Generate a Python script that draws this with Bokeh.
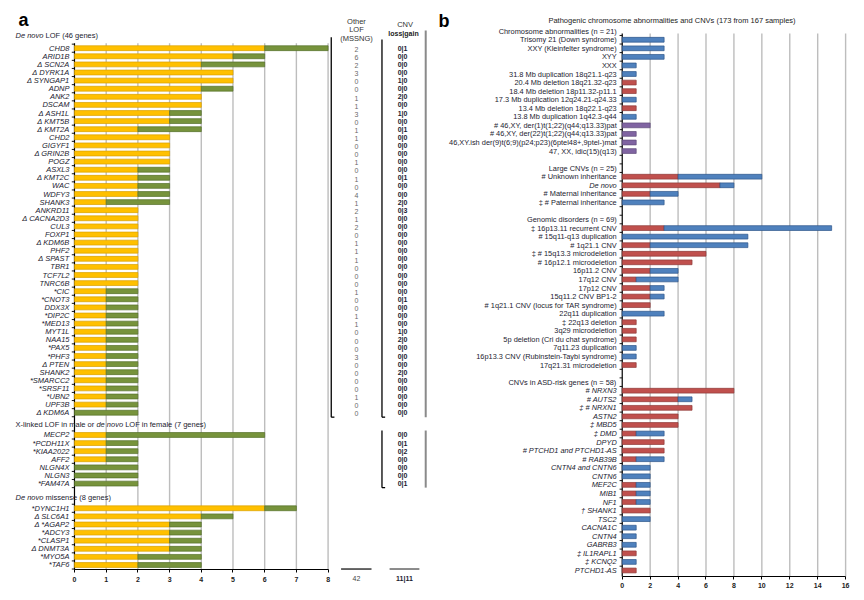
from bokeh.plotting import figure
from bokeh.models import Range1d, FixedTicker
from bokeh.layouts import row
from bokeh.embed import file_html
from bokeh.resources import INLINE
from bokeh.core.properties import value

# ---------------- Panel a data ----------------
lof_genes = ["CHD8", "ARID1B", "Δ SCN2A", "Δ DYRK1A", "Δ SYNGAP1", "ADNP", "ANK2", "DSCAM",
             "Δ ASH1L", "Δ KMT5B", "Δ KMT2A", "CHD2", "GIGYF1", "Δ GRIN2B", "POGZ", "ASXL3",
             "Δ KMT2C", "WAC", "WDFY3", "SHANK3", "ANKRD11", "Δ CACNA2D3", "CUL3", "FOXP1",
             "Δ KDM6B", "PHF2", "Δ SPAST", "TBR1", "TCF7L2", "TNRC6B", "*CIC", "*CNOT3",
             "DDX3X", "*DIP2C", "*MED13", "MYT1L", "NAA15", "*PAX5", "*PHF3", "Δ PTEN",
             "SHANK2", "*SMARCC2", "*SRSF11", "*UBN2", "UPF3B", "Δ KDM6A"]
lof_yellow = [6, 5, 4, 5, 5, 4, 4, 4, 3, 3, 2, 3, 3, 3, 3, 2, 2, 2, 2, 1,
              2, 2, 2, 2, 2, 2, 2, 2, 2, 2,
              1, 1, 1, 1, 1, 1, 1, 1, 1, 1, 1, 1, 1, 1, 1, 0]
lof_green = [2, 1, 2, 0, 0, 1, 0, 0, 1, 1, 2, 0, 0, 0, 0, 1, 1, 1, 1, 2,
             0, 0, 0, 0, 0, 0, 0, 0, 0, 0,
             1, 1, 1, 1, 1, 1, 1, 1, 1, 1, 1, 1, 1, 1, 1, 2]
other_lof = [2, 6, 2, 3, 0, 0, 1, 1, 3, 0, 1, 1, 0, 0, 1, 0, 1, 0, 4, 1,
             2, 1, 2, 0, 1, 1, 1, 0, 0, 0,
             1, 0, 0, 1, 1, 0, 0, 0, 3, 0, 0, 0, 0, 1, 0, 0]
lof_cnv = ["0|1", "0|0", "0|0", "0|0", "1|0", "0|0", "2|0", "0|0", "1|0", "0|0",
           "0|1", "0|0", "0|0", "0|0", "0|0", "0|0", "0|1", "0|0", "0|0", "2|0",
           "0|3", "0|0", "0|0", "0|0", "0|0", "0|0", "0|0", "0|0", "0|0", "0|0",
           "0|0", "0|1", "0|0", "0|0", "0|0", "1|0", "2|0", "0|0", "0|0", "0|0",
           "2|0", "0|0", "0|0", "0|0", "0|0", "0|0"]

xl_genes = ["MECP2", "*PCDH11X", "*KIAA2022", "AFF2", "NLGN4X", "NLGN3", "*FAM47A"]
xl_yellow = [1, 1, 1, 1, 0, 0, 0]
xl_green = [5, 1, 1, 1, 2, 2, 2]
xl_cnv = ["0|0", "0|1", "0|2", "0|0", "0|0", "0|0", "0|1"]

ms_genes = ["*DYNC1H1", "Δ SLC6A1", "Δ *AGAP2", "*ADCY3", "*CLASP1", "Δ DNMT3A", "*MYO5A", "*TAF6"]
ms_yellow = [6, 4, 3, 3, 3, 3, 2, 2]
ms_green = [1, 1, 1, 1, 1, 1, 2, 2]

a_ticks = [0, 1, 2, 3, 4, 5, 6, 7, 8]

# ---------------- Panel b data ----------------
b_title = "Pathogenic chromosome abnormalities and  CNVs (173 from 167 samples)"
chrom_header = "Chromosome abnormalities (n = 21)"
chrom_labels = ["Trisomy 21 (Down syndrome)", "XXY (Kleinfelter syndrome)", "XYY", "XXX",
                "31.8 Mb duplication 18q21.1-q23", "20.4 Mb deletion 18q21.32-q23",
                "18.4 Mb deletion 18p11.32-p11.1", "17.3 Mb duplication 12q24.21-q24.33",
                "13.4 Mb deletion 18q22.1-q23", "13.8 Mb duplication 1q42.3-q44",
                "# 46,XY, der(1)t(1;22)(q44;q13.33)pat", "# 46,XY, der(22)t(1;22)(q44;q13.33)pat",
                "46,XY.ish der(9)t(6;9)(p24;p23)(6ptel48+,9ptel-)mat", "47, XX, idic(15)(q13)"]
chrom_loss = [0, 0, 0, 0, 0, 1, 1, 0, 1, 0, 0, 0, 0, 0]
chrom_gain = [3, 3, 3, 1, 1, 0, 0, 1, 0, 1, 0, 0, 0, 0]
chrom_complex = [0, 0, 0, 0, 0, 0, 0, 0, 0, 0, 2, 1, 1, 1]

large_header = "Large CNVs (n = 25)"
large_labels = ["# Unknown inheritance", "De novo", "# Maternal inheritance", "‡ # Paternal inheritance"]
large_loss = [4, 7, 2, 0]
large_gain = [6, 1, 2, 3]

gd_header = "Genomic disorders (n = 69)"
gd_labels = ["‡ 16p13.11 recurrent CNV", "# 15q11-q13 duplication", "# 1q21.1 CNV",
             "‡ # 15q13.3 microdeletion", "# 16p12.1 microdeletion", "16p11.2 CNV", "17q12 CNV",
             "17p12 CNV", "15q11.2 CNV BP1-2", "# 1q21.1 CNV (locus for TAR syndrome)",
             "22q11 duplication", "‡ 22q13 deletion", "3q29 microdeletion",
             "5p deletion (Cri du chat syndrome)", "7q11.23 duplication",
             "16p13.3 CNV (Rubinstein-Taybi syndrome)", "17q21.31 microdeletion"]
gd_loss = [3, 0, 2, 6, 5, 2, 1, 2, 2, 2, 0, 1, 1, 1, 0, 0, 1]
gd_gain = [12, 9, 7, 0, 0, 2, 3, 1, 1, 0, 3, 0, 0, 0, 1, 1, 0]

asd_header = "CNVs in ASD-risk genes (n = 58)"
asd_labels = ["# NRXN3", "# AUTS2", "‡ # NRXN1", "ASTN2", "‡ MBD5", "‡ DMD", "DPYD",
              "# PTCHD1 and PTCHD1-AS", "# RAB39B", "CNTN4 and CNTN6", "CNTN6", "MEF2C", "MIB1",
              "NF1", "† SHANK1", "TSC2", "CACNA1C", "CNTN4", "GABRB3", "‡ IL1RAPL1", "‡ KCNQ2",
              "PTCHD1-AS"]
asd_loss = [8, 4, 5, 4, 4, 1, 3, 3, 1, 0, 0, 1, 1, 1, 2, 0, 0, 0, 0, 1, 0, 1]
asd_gain = [0, 1, 0, 0, 0, 2, 0, 0, 2, 2, 2, 1, 1, 1, 0, 2, 1, 1, 1, 0, 1, 0]

b_ticks = [0, 2, 4, 6, 8, 10, 12, 14, 16]

# ---------------- style ----------------
FONT = "Liberation Sans"
TXT = "#1b1b2f"
YEL, YEL_L = "#FFC000", "#D9A000"
GRN, GRN_L = "#77933C", "#55702A"
RED, RED_L = "#C0504D", "#8E3A38"
BLU, BLU_L = "#4F81BD", "#2C5489"
PUR, PUR_L = "#8064A2", "#5E4A7A"
GRID = "#BDBDBD"
H = 596


def base_fig(width, xr, yr, axis_at):
    p = figure(width=width, height=H, x_range=Range1d(*xr), y_range=Range1d(*yr),
               output_backend="svg", toolbar_location=None, y_axis_location=None,
               min_border=0, min_border_left=0, min_border_right=0, min_border_top=0,
               min_border_bottom=0)
    p.xgrid.visible = False
    p.ygrid.visible = False
    p.outline_line_color = None
    p.background_fill_color = "white"
    p.border_fill_color = "white"
    ax = p.xaxis[0]
    ax.fixed_location = axis_at
    ax.axis_line_color = "black"
    ax.axis_line_width = 1.2
    ax.major_tick_line_color = "black"
    ax.major_tick_in = 0
    ax.major_tick_out = 3
    ax.minor_tick_line_color = None
    ax.major_label_text_font = FONT
    ax.major_label_text_font_size = "7px"
    ax.major_label_text_font_style = "bold"
    ax.major_label_text_color = "#222222"
    ax.major_label_standoff = 4
    return p


def stacked(p, ys, first, second, c1, l1, c2, l2, h):
    y1 = [y for y, a in zip(ys, first) if a > 0]
    r1 = [a for a in first if a > 0]
    p.hbar(y=y1, left=0, right=r1, height=h, fill_color=c1, line_color=l1, line_width=0.7)
    y2 = [y for y, a, b in zip(ys, first, second) if b > 0]
    lft = [a for a, b in zip(first, second) if b > 0]
    rgt = [a + b for a, b in zip(first, second) if b > 0]
    p.hbar(y=y2, left=lft, right=rgt, height=h, fill_color=c2, line_color=l2, line_width=0.7)


def txt(p, xs, ys, texts, size="7.5px", style="normal", align="right", color=TXT,
        xoff=0, baseline="middle"):
    p.text(x=xs, y=ys, text=texts, x_offset=xoff, text_align=align, text_baseline=baseline,
           text_font=value(FONT), text_font_size=size, text_font_style=style, text_color=color)


# ================= Panel a =================
AXIS_A = 64.4
pa = base_fig(432, (-2.334, 11.294), ((H - 47.7) / 8.1, -47.7 / 8.1), AXIS_A)
pa.xaxis.ticker = FixedTicker(ticks=a_ticks)
pa.xaxis.bounds = (a_ticks[0], a_ticks[-1])

y_lof = [float(i) for i in range(len(lof_genes))]
y_xl = [47.75 + i for i in range(len(xl_genes))]
y_ms = [56.8 + i for i in range(len(ms_genes))]
ys_all = y_lof + y_xl + y_ms
top_a, bot_a = -0.62, AXIS_A

# grid lines
pa.segment(x0=a_ticks[1:], y0=top_a, x1=a_ticks[1:], y1=bot_a, line_color=GRID, line_width=1.4)
# y axis line + ticks
pa.segment(x0=[0], y0=[top_a], x1=[0], y1=[bot_a], line_color="black", line_width=1.2)
tb = [y - 0.5 for y in y_lof] + [y_lof[-1] + 0.5] + [y - 0.5 for y in y_xl] + [y_xl[-1] + 0.5] \
     + [y - 0.5 for y in y_ms] + [y_ms[-1] + 0.5]
pa.segment(x0=-0.085, y0=tb, x1=0, y1=tb, line_color="black", line_width=0.9)

stacked(pa, ys_all, lof_yellow + xl_yellow + ms_yellow, lof_green + xl_green + ms_green,
        YEL, YEL_L, GRN, GRN_L, 0.6)

txt(pa, [0] * len(ys_all), ys_all, lof_genes + xl_genes + ms_genes, size="7.5px",
    style="italic", xoff=-5)

# section headers
hx = -1.861
txt(pa, [hx], [-1.57], ["De novo"], style="italic", align="left")
txt(pa, [hx], [-1.57], ["LOF (46 genes)"], align="left", xoff=30.0)
txt(pa, [hx], [46.5], ["X-linked LOF in male or"], align="left")
txt(pa, [hx], [46.5], ["de novo"], style="italic", align="left", xoff=80.9)
txt(pa, [hx], [46.5], ["LOF in female (7 genes)"], align="left", xoff=109.7)
txt(pa, [hx], [55.5], ["De novo"], style="italic", align="left")
txt(pa, [hx], [55.5], ["missense (8 genes)"], align="left", xoff=30.0)

# panel letter
txt(pa, [-1.767], [-3.42], ["a"], size="18px", style="bold", align="left", color="black",
    baseline="alphabetic")

# columns
x_other, x_cnv = 8.896, 10.35
txt(pa, [x_other] * 3, [-3.27, -2.33, -1.18], ["Other", "LOF", "(MSSNG)"], size="7.5px",
    align="center", color="#333333")
txt(pa, [10.43], [-2.93], ["CNV"], size="7.5px", align="center", color="#333333")
txt(pa, [10.38], [-1.82], ["loss|gain"], size="7px", style="bold", align="center", color="#222222")
txt(pa, [x_other] * len(y_lof), [y + 0.15 for y in y_lof], [str(v) for v in other_lof],
    size="7px", align="center", color="#6a6a6a")
txt(pa, [x_cnv] * (len(y_lof) + len(y_xl)), y_lof + y_xl, lof_cnv + xl_cnv,
    size="7px", style="bold", align="center", color=TXT)

# column brackets
pa.segment(x0=[8.1, 9.70], y0=[-1.36, -1.08], x1=[8.1, 9.70], y1=[45.55, 45.55],
           line_color="black", line_width=1.3)
pa.segment(x0=[8.1, 9.70], y0=[45.55, 45.55], x1=[8.2, 9.80], y1=[45.55, 45.55],
           line_color="black", line_width=1.3)
pa.segment(x0=[11.08], y0=[-2.2], x1=[11.08], y1=[45.55], line_color="#8a8a8a", line_width=2)
pa.segment(x0=[9.70], y0=[47.2], x1=[9.70], y1=[54.25], line_color="black", line_width=1.3)
pa.segment(x0=[9.70], y0=[54.25], x1=[9.80], y1=[54.25], line_color="black", line_width=1.3)
pa.segment(x0=[11.08], y0=[47.2], x1=[11.08], y1=[54.25], line_color="#8a8a8a", line_width=2)
pa.segment(x0=[8.41], y0=[64.3], x1=[9.37], y1=[64.3], line_color="black", line_width=1.2)
pa.segment(x0=[9.94], y0=[64.3], x1=[10.88], y1=[64.3], line_color="#8a8a8a", line_width=2)

tot_other = sum(other_lof)
cnv_all = lof_cnv + xl_cnv
tot_loss = sum(int(c.split("|")[0]) for c in cnv_all)
tot_gain = sum(int(c.split("|")[1]) for c in cnv_all)
txt(pa, [x_other], [65.47], [str(tot_other)], size="7px", align="center", color="#444444")
txt(pa, [10.41], [65.47], [f"{tot_loss}|{tot_gain}"], size="7px", style="bold", align="center")

# ================= Panel b =================
AXIS_B = 63.7
pb = base_fig(424, (-13.59, 16.78), ((H - 30.7) / 8.56, -30.7 / 8.56), AXIS_B)
pb.xaxis.ticker = FixedTicker(ticks=b_ticks)
pb.xaxis.bounds = (b_ticks[0], b_ticks[-1])

s_chrom = [1.0 + i for i in range(len(chrom_labels))]
s_large = [17.0 + i for i in range(len(large_labels))]
s_gd = [23.0 + i for i in range(len(gd_labels))]
s_asd = [42.0 + i for i in range(len(asd_labels))]
top_b, bot_b = 0.27, AXIS_B

pb.segment(x0=b_ticks[1:], y0=top_b, x1=b_ticks[1:], y1=bot_b, line_color=GRID, line_width=1.4)
pb.segment(x0=[0], y0=[top_b], x1=[0], y1=[bot_b], line_color="black", line_width=1.2)
tbb = [s + 0.5 for s in range(0, 63)]
pb.segment(x0=-0.19, y0=tbb, x1=0, y1=tbb, line_color="black", line_width=0.9)

BH = 0.56
stacked(pb, s_chrom, chrom_loss, chrom_gain, RED, RED_L, BLU, BLU_L, BH)
yc = [s for s, c in zip(s_chrom, chrom_complex) if c > 0]
rc = [c for c in chrom_complex if c > 0]
pb.hbar(y=yc, left=0, right=rc, height=BH, fill_color=PUR, line_color=PUR_L, line_width=0.7)
stacked(pb, s_large, large_loss, large_gain, RED, RED_L, BLU, BLU_L, BH)
stacked(pb, s_gd, gd_loss, gd_gain, RED, RED_L, BLU, BLU_L, BH)
stacked(pb, s_asd, asd_loss, asd_gain, RED, RED_L, BLU, BLU_L, BH)

BS = "7.4px"
txt(pb, [0] * 4, [0.0, 16.0, 22.0, 41.0], [chrom_header, large_header, gd_header, asd_header],
    size=BS, xoff=-5.5)
txt(pb, [0] * len(s_chrom), s_chrom, chrom_labels, size=BS, xoff=-5.5)
txt(pb, [0, 0, 0], [s_large[0], s_large[2], s_large[3]],
    [large_labels[0], large_labels[2], large_labels[3]], size=BS, xoff=-5.5)
txt(pb, [0], [s_large[1]], [large_labels[1]], size=BS, style="italic", xoff=-5.5)
txt(pb, [0] * len(s_gd), s_gd, gd_labels, size=BS, xoff=-5.5)
txt(pb, [0] * len(s_asd), s_asd, asd_labels, size=BS, style="italic", xoff=-5.5)

txt(pb, [3.64], [-1.25], [b_title], size="7.5px", align="center", color="#222222")
txt(pb, [-13.16], [-1.25], ["b"], size="18px", style="bold", align="left", color="black",
    baseline="alphabetic")

layout = row(pa, pb, spacing=0)
open("out.html", "w").write(file_html(layout, INLINE))
